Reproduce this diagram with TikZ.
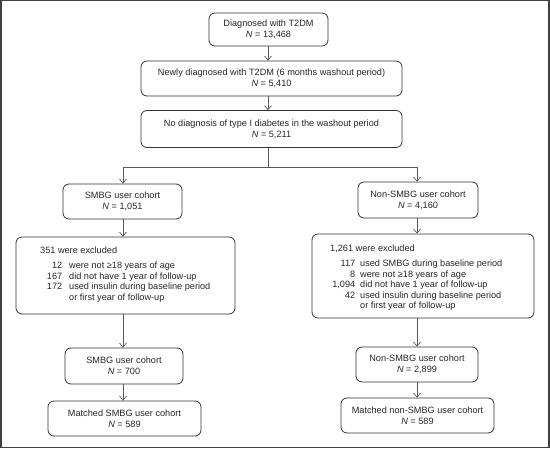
\documentclass[tikz,border=0pt]{standalone}
\usepackage{fontspec}
\setmainfont{Liberation Sans}
\usetikzlibrary{arrows.meta}
\tikzset{
  stagebox/.style={draw=black!80, line width=0.8bp, rounded corners=6bp, inner sep=0pt,
    align=center, font=\fontsize{9.2}{10.6}\selectfont, text=black!85},
  link/.style={draw=black!65, line width=0.7bp, -{Straight Barb[length=4bp,width=7bp]}},
  plain/.style={draw=black!65, line width=0.7bp},
  listtext/.style={inner sep=0pt, anchor=north west, align=left, font=\fontsize{9.2}{10.5}\selectfont, text=black!85}
}
\newcommand{\nn}{\textit{N}}
\begin{document}
\begin{tikzpicture}[x=1bp,y=-1bp]
\useasboundingbox (0,0) rectangle (550,450);
\draw[draw=black!75, line width=1.5bp] (0.75,0.75) rectangle (549,447.5);

\node[stagebox, minimum width=119bp, minimum height=33bp] (b1) at (268.5,29.5) {Diagnosed with T2DM\\\nn{} = 13,468};
\node[stagebox, minimum width=261bp, minimum height=35bp] (b2) at (271.5,78.5) {Newly diagnosed with T2DM (6 months washout period)\\\nn{} = 5,410};
\node[stagebox, minimum width=261bp, minimum height=37bp] (b3) at (271.5,129) {No diagnosis of type I diabetes in the washout period\\\nn{} = 5,211};

\node[stagebox, minimum width=119bp, minimum height=35bp] (s1) at (122.5,201.5) {SMBG user cohort\\\nn{} = 1,051};
\node[stagebox, minimum width=120bp, minimum height=36bp] (n1) at (418,200) {Non-SMBG user cohort\\\nn{} = 4,160};

\node[stagebox, minimum width=219bp, minimum height=77bp] (e1) at (125.5,275.5) {};
\node[stagebox, minimum width=222bp, minimum height=84bp] (e2) at (423,276) {};

\node[listtext] (e1t) at (40,245.5) {\begin{tabular}{@{}r@{\hspace{7bp}}l@{}}
\multicolumn{2}{@{}l}{351 were excluded}\\[5.5bp]
\makebox[22bp][r]{12} & were not ≥18 years of age\\
167 & did not have 1 year of follow-up\\
172 & used insulin during baseline period\\
 & or first year of follow-up
\end{tabular}};
\node[listtext] (e2t) at (330,243.5) {\begin{tabular}{@{}r@{\hspace{5bp}}l@{}}
\multicolumn{2}{@{}l}{1,261 were excluded}\\[5.5bp]
\makebox[25bp][r]{117} & used SMBG during baseline period\\
8 & were not ≥18 years of age\\
1,094 & did not have 1 year of follow-up\\
42 & used insulin during baseline period\\
 & or first year of follow-up
\end{tabular}};

\node[stagebox, minimum width=118bp, minimum height=36bp] (s2) at (124,366) {SMBG user cohort\\\nn{} = 700};
\node[stagebox, minimum width=122bp, minimum height=35bp] (n2) at (417,364.5) {Non-SMBG user cohort\\\nn{} = 2,899};
\node[stagebox, minimum width=153bp, minimum height=35bp] (s3) at (124.5,418.5) {Matched SMBG user cohort\\\nn{} = 589};
\node[stagebox, minimum width=153bp, minimum height=35bp] (n3) at (417.5,415.5) {Matched non-SMBG user cohort\\\nn{} = 589};

\coordinate (split) at (268,167);
\draw[link] (b1.south -| 268,0) -- (b2.north -| 268,0);
\draw[link] (b2.south -| 268,0) -- (b3.north -| 268,0);
\draw[plain] (b3.south -| 268,0) -- (split);
\draw[link] (split) -| (s1.north -| 123,0);
\draw[link] (split) -| (n1.north -| 417,0);

\draw[link] (s1.south -| 123,0) -- (e1.north -| 123,0);
\draw[link] (e1.south -| 123,0) -- (s2.north -| 123,0);
\draw[link] (s2.south -| 123,0) -- (s3.north -| 123,0);

\draw[link] (n1.south -| 417,0) -- (e2.north -| 417,0);
\draw[link] (e2.south -| 417,0) -- (n2.north -| 417,0);
\draw[link] (n2.south -| 417,0) -- (n3.north -| 417,0);
\end{tikzpicture}
\end{document}
